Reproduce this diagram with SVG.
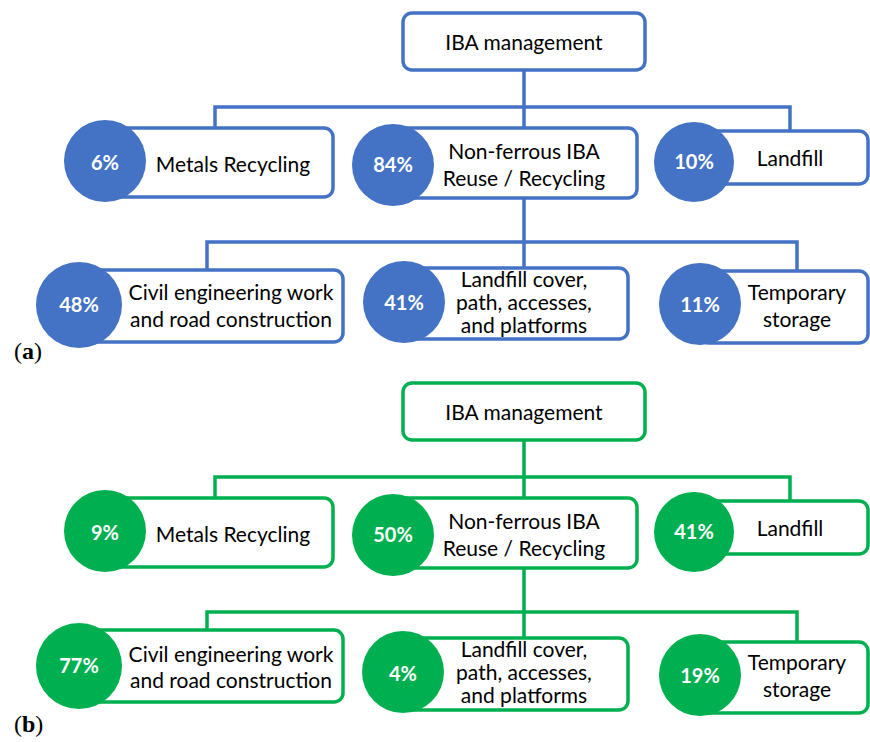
<svg xmlns="http://www.w3.org/2000/svg" width="870" height="742" viewBox="0 0 870 742">
<style>
.bb{fill:#fff;stroke:#4472C4;stroke-width:3.5}
.gb{fill:#fff;stroke:#00B050;stroke-width:3.5}
.bc{fill:#4472C4}
.gc{fill:#00B050}
.bl{fill:none;stroke:#4472C4;stroke-width:3.5}
.gl{fill:none;stroke:#00B050;stroke-width:3.5}
.t{font-family:Lato,"Open Sans",sans-serif;font-size:21px;fill:#000;text-anchor:middle}
.p{font-family:Lato,"Open Sans",sans-serif;font-size:20px;font-weight:bold;fill:#fff;text-anchor:middle}
.lab{font-family:"Liberation Serif",serif;font-size:24px;fill:#000}
</style>
<rect width="870" height="742" fill="#fff"/>

<g id="connectors-a">
<path class="bl" d="M524 70V128M215 128V107H790V132M524 198V268M207 270V242H797V271"/>
</g>

<g id="a-root"><rect class="bb" x="403" y="13" width="242" height="57" rx="9"/><text class="t" x="524" y="50">IBA management</text></g>

<g id="a-metals"><rect class="bb" x="105" y="128" width="228" height="69" rx="9"/><circle class="bc" cx="105" cy="161" r="41"/><text class="p" x="105" y="170">6%</text><text class="t" x="233" y="172">Metals Recycling</text></g>

<g id="a-nonferrous"><rect class="bb" x="393" y="128" width="244" height="70" rx="9"/><circle class="bc" cx="393" cy="165" r="41"/><text class="p" x="393" y="172">84%</text><text class="t" x="524" y="159">Non-ferrous IBA</text><text class="t" x="524" y="186">Reuse / Recycling</text></g>

<g id="a-landfill"><rect class="bb" x="694" y="131" width="174" height="53" rx="9"/><circle class="bc" cx="694" cy="162" r="40"/><text class="p" x="694" y="169">10%</text><text class="t" x="790" y="166">Landfill</text></g>

<g id="a-civil"><rect class="bb" x="79" y="270" width="264" height="72" rx="9"/><circle class="bc" cx="79" cy="305" r="43"/><text class="p" x="79" y="312">48%</text><text class="t" x="231" y="300">Civil engineering work</text><text class="t" x="231" y="327">and road construction</text></g>

<g id="a-cover"><rect class="bb" x="404" y="268" width="224" height="71" rx="9"/><circle class="bc" cx="404" cy="302" r="41"/><text class="p" x="404" y="310">41%</text><text class="t" x="524" y="287">Landfill cover,</text><text class="t" x="524" y="310">path, accesses,</text><text class="t" x="524" y="333">and platforms</text></g>

<g id="a-temp"><rect class="bb" x="700" y="271" width="168" height="72" rx="9"/><circle class="bc" cx="700" cy="304" r="41"/><text class="p" x="700" y="312">11%</text><text class="t" x="797" y="300">Temporary</text><text class="t" x="797" y="327">storage</text></g>

<text class="lab" x="14" y="359">(<tspan font-weight="bold">a</tspan>)</text>

<g id="connectors-b">
<path class="gl" d="M524 440V498M215 498V477H790V502M524 568V638M207 630V612H797V642"/>
</g>

<g id="b-root"><rect class="gb" x="403" y="383" width="242" height="57" rx="9"/><text class="t" x="524" y="420">IBA management</text></g>

<g id="b-metals"><rect class="gb" x="105" y="498" width="228" height="69" rx="9"/><circle class="gc" cx="105" cy="531" r="41"/><text class="p" x="105" y="540">9%</text><text class="t" x="233" y="542">Metals Recycling</text></g>

<g id="b-nonferrous"><rect class="gb" x="393" y="498" width="244" height="70" rx="9"/><circle class="gc" cx="393" cy="535" r="41"/><text class="p" x="393" y="542">50%</text><text class="t" x="524" y="529">Non-ferrous IBA</text><text class="t" x="524" y="556">Reuse / Recycling</text></g>

<g id="b-landfill"><rect class="gb" x="694" y="501" width="174" height="53" rx="9"/><circle class="gc" cx="694" cy="532" r="40"/><text class="p" x="694" y="539">41%</text><text class="t" x="790" y="536">Landfill</text></g>

<g id="b-civil"><rect class="gb" x="79" y="630" width="264" height="72" rx="9"/><circle class="gc" cx="79" cy="666" r="43"/><text class="p" x="79" y="673">77%</text><text class="t" x="231" y="662">Civil engineering work</text><text class="t" x="231" y="688">and road construction</text></g>

<g id="b-cover"><rect class="gb" x="403" y="638" width="225" height="72" rx="9"/><circle class="gc" cx="403" cy="672" r="41"/><text class="p" x="403" y="681">4%</text><text class="t" x="524" y="657">Landfill cover,</text><text class="t" x="524" y="680">path, accesses,</text><text class="t" x="524" y="703">and platforms</text></g>

<g id="b-temp"><rect class="gb" x="700" y="642" width="168" height="71" rx="9"/><circle class="gc" cx="700" cy="675" r="41"/><text class="p" x="700" y="683">19%</text><text class="t" x="797" y="670">Temporary</text><text class="t" x="797" y="697">storage</text></g>

<text class="lab" x="14" y="732">(<tspan font-weight="bold">b</tspan>)</text>
</svg>
